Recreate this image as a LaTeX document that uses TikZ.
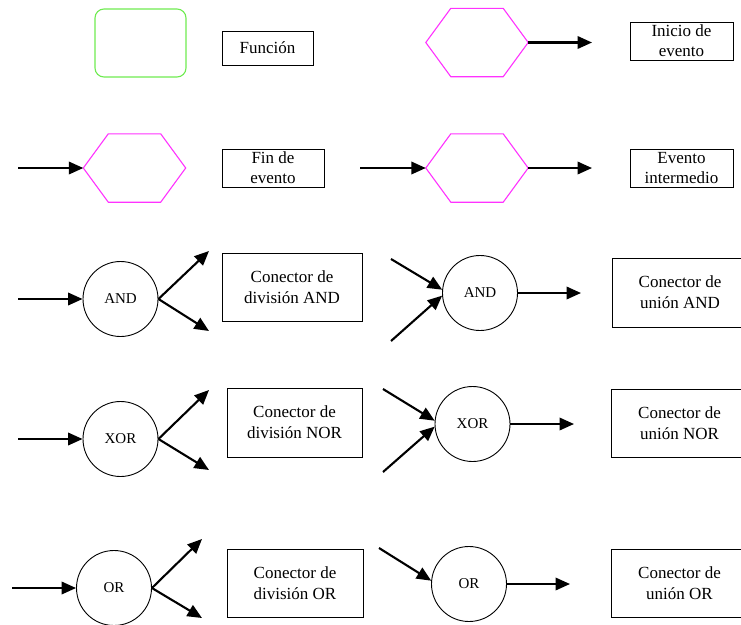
\documentclass[tikz,border=0pt]{standalone}
\usepackage{fontspec}
\setmainfont{Liberation Serif}
\usetikzlibrary{arrows.meta,calc}
\definecolor{funcgreen}{RGB}{110,235,80}
\definecolor{evmag}{RGB}{255,50,255}
\tikzset{
  lbl/.style={draw=black,line width=0.9pt,inner sep=0pt,align=center,font=\rmfamily\fontsize{17}{20}\selectfont},
  biglbl/.style={lbl,font=\rmfamily\fontsize{17}{21}\selectfont},
  funcbox/.style={draw=funcgreen,line width=1.1pt,rounded corners=9pt,minimum width=91pt,minimum height=68pt,inner sep=0pt},
  hexbase/.style={minimum width=102pt,minimum height=68pt,inner sep=0pt},
  hexa/.style={draw=evmag,line width=1.1pt},
  gate/.style={circle,draw=black,line width=0.9pt,minimum size=75pt,inner sep=0pt,font=\rmfamily\fontsize{15}{18}\selectfont},
  flow/.style={line width=2.1pt,-{Triangle[length=14.5pt,width=12.5pt]}}
}
\newcommand{\hexpath}[1]{%
  \draw[hexa] (#1.west) -- ($(#1.north west)+(25,0)$) -- ($(#1.north east)+(-25,0)$) -- (#1.east) -- ($(#1.south east)+(-25,0)$) -- ($(#1.south west)+(25,0)$) -- cycle;}
\begin{document}
\begin{tikzpicture}[x=1pt,y=-1pt]
\useasboundingbox (0,0) rectangle (741,624);
% Row 1
\node[funcbox] (func) at (140.5,43) {};
\node[lbl,minimum width=91pt,minimum height=34pt] (tfunc) at (267.5,48) {Función};
\node[hexbase] (hstart) at (477,42.5) {};
\hexpath{hstart}
\coordinate (hstartout) at (592,42.5);
\draw[flow] (hstart.east) -- (hstartout);
\node[lbl,minimum width=103pt,minimum height=38pt] (tstart) at (681.5,41) {Inicio de\\evento};
% Row 2
\node[hexbase] (hend) at (134.5,168) {};
\hexpath{hend}
\coordinate (hendin) at (18,168);
\draw[flow] (hendin) -- (hend.west);
\node[lbl,minimum width=102pt,minimum height=38pt] (tend) at (273,168) {Fin de\\evento};
\node[hexbase] (hmid) at (477,168) {};
\hexpath{hmid}
\coordinate (hmidin) at (360,168);
\coordinate (hmidout) at (592,168);
\draw[flow] (hmidin) -- (hmid.west);
\draw[flow] (hmid.east) -- (hmidout);
\node[lbl,minimum width=103pt,minimum height=38pt] (tmid) at (681.5,168) {Evento\\intermedio};
% Row 3 AND
\node[gate] (andS) at (120.5,299) {AND};
\coordinate (andSin) at (18,299);
\coordinate (andSo1) at (209,251);
\coordinate (andSo2) at (209,331);
\draw[flow] (andSin) -- (andS.west);
\draw[flow] (andS.east) -- (andSo1);
\draw[flow] (andS.east) -- (andSo2);
\node[biglbl,minimum width=140pt,minimum height=68pt] (tandS) at (292,287) {Conector de\\división AND};
\node[gate] (andJ) at (480,293) {AND};
\coordinate (andJi1) at (391,259);
\coordinate (andJi2) at (391,341);
\coordinate (andJout) at (581,293);
\draw[flow] (andJi1) -- (andJ.175);
\draw[flow] (andJi2) -- (andJ.184);
\draw[flow] (andJ.east) -- (andJout);
\node[biglbl,minimum width=136pt,minimum height=69pt] (tandJ) at (680,292.5) {Conector de\\unión AND};
% Row 4 XOR
\node[gate] (xorS) at (120.5,439) {XOR};
\coordinate (xorSin) at (18,439);
\coordinate (xorSo1) at (209,390);
\coordinate (xorSo2) at (209,470);
\draw[flow] (xorSin) -- (xorS.west);
\draw[flow] (xorS.east) -- (xorSo1);
\draw[flow] (xorS.east) -- (xorSo2);
\node[biglbl,minimum width=135pt,minimum height=69pt] (txorS) at (294.5,422.5) {Conector de\\división NOR};
\node[gate] (xorJ) at (472.5,424) {XOR};
\coordinate (xorJi1) at (383,389);
\coordinate (xorJi2) at (383,472);
\coordinate (xorJout) at (574,424);
\draw[flow] (xorJi1) -- (xorJ.175);
\draw[flow] (xorJi2) -- (xorJ.184);
\draw[flow] (xorJ.east) -- (xorJout);
\node[biglbl,minimum width=137pt,minimum height=68pt] (txorJ) at (679.5,423) {Conector de\\unión NOR};
% Row 5 OR
\node[gate] (orS) at (114,588) {OR};
\coordinate (orSin) at (12,588);
\coordinate (orSo1) at (202,539);
\coordinate (orSo2) at (202,618);
\draw[flow] (orSin) -- (orS.west);
\draw[flow] (orS.east) -- (orSo1);
\draw[flow] (orS.east) -- (orSo2);
\node[biglbl,minimum width=136pt,minimum height=68pt] (torS) at (295,583) {Conector de\\división OR};
\node[gate] (orJ) at (469,584) {OR};
\coordinate (orJi1) at (379,548);
\coordinate (orJout) at (570,584);
\draw[flow] (orJi1) -- (orJ.175);
\draw[flow] (orJ.east) -- (orJout);
\node[biglbl,minimum width=137pt,minimum height=68pt] (torJ) at (679.5,583) {Conector de\\unión OR};
\end{tikzpicture}
\end{document}
